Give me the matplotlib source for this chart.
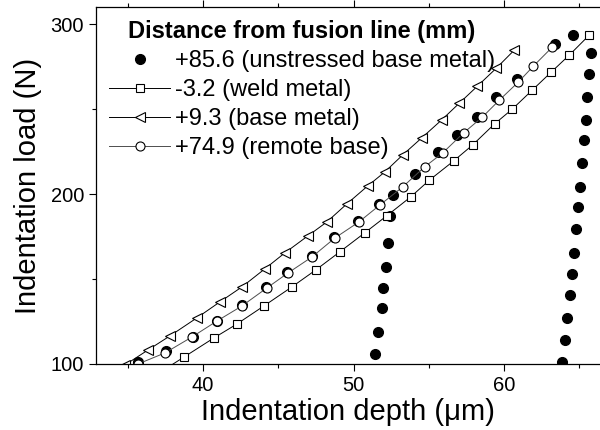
import matplotlib
matplotlib.use("Agg")
import matplotlib.pyplot as plt
from matplotlib.ticker import MultipleLocator

plt.rcParams['font.family'] = ['Liberation Sans', 'DejaVu Sans']

# +85.6 mm (unstressed base metal): loading, partial unload, reload, full unload
unstressed_depth = [35.67, 37.53, 39.32, 40.92, 42.57, 44.2, 45.6, 47.2, 48.7, 50.3, 51.7, 52.59,
                    52.39, 52.26, 52.13, 51.93, 51.86, 51.59, 51.39,
                    54.05, 55.58, 56.84, 58.23, 59.49, 60.88, 63.41, 64.55,
                    65.78, 65.66, 65.52, 65.46, 65.33, 65.20, 65.06, 64.93, 64.80, 64.66,
                    64.53, 64.40, 64.20, 64.07, 63.87]
unstressed_load = [101.2, 107.6, 115.9, 125.3, 134.7, 145.0, 154.0, 163.5, 174.5, 184.0, 194.0, 199.4,
                   187.1, 171.2, 157.1, 144.7, 132.9, 118.8, 105.9,
                   211.8, 224.7, 234.7, 245.3, 257.1, 267.6, 288.2, 293.5,
                   282.9, 270.6, 257.1, 243.5, 231.8, 218.2, 204.1, 192.4, 179.4, 165.3,
                   152.9, 140.6, 127.1, 114.1, 101.2]

# -3.2 mm (weld metal)
weld_depth = [36.74, 38.73, 40.71, 42.24, 44.03, 45.89, 47.48, 49.07, 50.73, 52.19, 53.78,
              55.04, 56.64, 57.90, 59.36, 60.55, 61.88, 63.14, 64.34, 65.66]
weld_load = [92.9, 104.1, 115.3, 123.5, 134.1, 145.3, 155.3, 165.9, 177.1, 187.1, 198.2,
             208.2, 219.4, 228.8, 241.2, 250.0, 261.2, 271.8, 281.8, 293.5]

# +9.3 mm (base metal)
base_depth = [34.80, 36.33, 37.79, 39.58, 41.11, 42.57, 44.09, 45.42, 46.95, 48.21, 49.54,
              50.93, 52.06, 53.25, 54.51, 55.84, 57.03, 58.23, 59.49, 60.68]
base_load = [99.4, 108.2, 116.5, 127.1, 136.5, 145.3, 155.9, 165.3, 175.3, 183.5, 194.1,
             204.7, 212.9, 222.9, 232.9, 243.5, 253.5, 263.5, 274.1, 284.7]

# +74.9 mm (remote base)
remote_depth = [35.67, 37.46, 39.26, 40.92, 42.57, 44.23, 45.63, 47.22, 48.75, 50.34, 51.74,
                53.25, 54.71, 55.91, 57.30, 58.56, 59.69, 60.95, 61.95, 63.21]
remote_load = [100.0, 106.5, 115.9, 125.3, 134.1, 144.7, 153.5, 162.9, 174.1, 183.5, 193.5,
               204.1, 215.9, 224.1, 235.9, 245.3, 255.3, 265.9, 275.3, 286.5]

labels = ['+85.6 (unstressed base metal)', '-3.2 (weld metal)',
          '+9.3 (base metal)', '+74.9 (remote base)']

fig = plt.figure(figsize=(6.0, 4.3), dpi=100)
ax = fig.add_axes([0.16, 0.1535, 0.84, 0.8302])

ax.plot(unstressed_depth, unstressed_load, linestyle='none', marker='o', ms=7,
        color='black', label=labels[0])
ax.plot(weld_depth, weld_load, '-', color='black', lw=0.7, marker='s', ms=5.3,
        mfc='white', mec='black', mew=0.8, label=labels[1])
ax.plot(base_depth, base_load, '-', color='black', lw=0.7, marker='<', ms=7,
        mfc='white', mec='black', mew=0.8, label=labels[2])
ax.plot(remote_depth, remote_load, '-', color='0.3', lw=0.7, marker='o', ms=6.5,
        mfc='white', mec='black', mew=0.8, label=labels[3])

ax.set_xlim(32.88, 66.37)
ax.set_ylim(100, 310)
ax.xaxis.set_major_locator(MultipleLocator(10))
ax.xaxis.set_minor_locator(MultipleLocator(5))
ax.yaxis.set_major_locator(MultipleLocator(100))
ax.yaxis.set_minor_locator(MultipleLocator(50))

ax.spines['right'].set_visible(False)
for s in ['left', 'bottom', 'top']:
    ax.spines[s].set_linewidth(0.9)
ax.tick_params(which='both', direction='out', width=0.8, labelsize=14.5, top=True)
ax.tick_params(which='major', length=5)
ax.tick_params(which='minor', length=3)
ax.tick_params(axis='x', which='both', top=True, labeltop=False)

ax.set_xlabel('Indentation depth (\u03bcm)', fontsize=21, labelpad=2)
ax.set_ylabel('Indentation load (N)', fontsize=21, labelpad=6)

leg = ax.legend(loc='upper left', bbox_to_anchor=(0.0, 1.0), frameon=False,
                fontsize=17, title='Distance from fusion line (mm)',
                title_fontproperties={'weight': 'bold', 'size': 17},
                handlelength=2.6, handletextpad=0.2, labelspacing=0.3,
                borderpad=0.35, borderaxespad=0.2, numpoints=1)

fig.savefig('out.png', dpi=100)
